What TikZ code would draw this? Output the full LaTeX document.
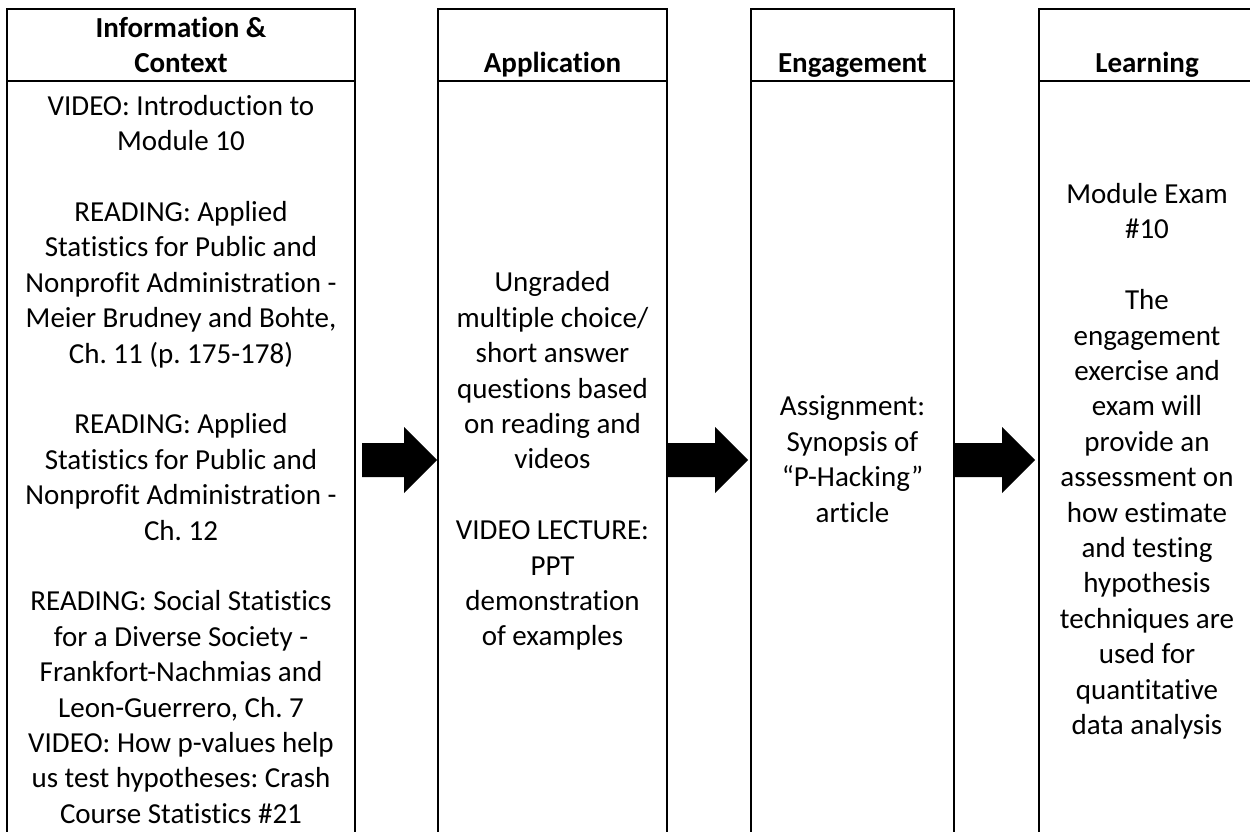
\documentclass[tikz,border=0pt]{standalone}
\usepackage{fontspec}
\setmainfont{Carlito}[Ligatures={TeX,NoCommon}]
\frenchspacing
% one text line: 27.6pt above the baseline, 7.8pt below (35.4pt pitch)
\newcommand\lnstrut{\rule[-7.8pt]{0pt}{35.4pt}}
\tikzset{
  colbox/.style={draw=black, line width=2.7pt, outer sep=0pt, inner sep=0pt},
  headtxt/.style={font=\fontsize{29}{35.4}\selectfont\bfseries, align=center, inner sep=0pt},
  bodytxt/.style={font=\fontsize{29}{35.4}\selectfont, align=center, inner sep=0pt},
  pics/blockarrow/.style={code={
    \fill[black] (0,0) -- (-33,-33) -- (-33,-17) -- (-#1,-17) -- (-#1,17)
      -- (-33,17) -- (-33,33) -- cycle;
  }}
}
\begin{document}
\begin{tikzpicture}[x=1pt,y=-1pt]
\useasboundingbox (0,0) rectangle (1250,832);
\clip (0,0) rectangle (1250,832);

% the four columns (outline boxes)
\node[colbox, minimum width=348pt, minimum height=827pt] (c1) at (181,422.5) {};
\node[colbox, minimum width=229pt, minimum height=827pt] (c2) at (552.5,422.5) {};
\node[colbox, minimum width=203pt, minimum height=827pt] (c3) at (852.5,422.5) {};
\node[colbox, minimum width=216pt, minimum height=827pt] (c4) at (1147,422.5) {};

% header / body separators
\foreach \c in {c1,c2,c3,c4}
  \draw[line width=2.7pt] (\c.west |- 0,81) -- (\c.east |- 0,81);

% headers
\node[headtxt, anchor=north] (h1) at (c1.north |- 0,9.4) {\lnstrut Information \&\\Context\lnstrut};
\node[headtxt, anchor=base] (h2) at (c2.north |- 0,72.4) {Application};
\node[headtxt, anchor=base] (h3) at (c3.north |- 0,72.4) {Engagement};
\node[headtxt, anchor=base] (h4) at (c4.north |- 0,72.4) {Learning};

% column contents
\node[bodytxt, anchor=north] (b1) at (c1.north |- 0,87.4) {\lnstrut VIDEO: Introduction to\\
Module 10\\[35.4pt]
READING: Applied\\
Statistics for Public and\\
Nonprofit Administration -\\
Meier Brudney and Bohte,\\
Ch. 11 (p. 175-178)\\[35.4pt]
READING: Applied\\
Statistics for Public and\\
Nonprofit Administration -\\
Ch. 12\\[35.4pt]
READING: Social Statistics\\
for a Diverse Society -\\
Frankfort-Nachmias and\\
Leon-Guerrero, Ch. 7\\
VIDEO: How p-values help\\
us test hypotheses: Crash\\
Course Statistics \#21\lnstrut};

\node[bodytxt] (b2) at (c2.north |- 0,459) {\lnstrut Ungraded\\
multiple choice/\\
short answer\\
questions based\\
on reading and\\
videos\\[35.4pt]
VIDEO LECTURE:\\
PPT\\
demonstration\\
of examples\lnstrut};

\node[bodytxt] (b3) at (c3.north |- 0,459) {\lnstrut Assignment:\\
Synopsis of\\
“P-Hacking”\\
article\lnstrut};

\node[bodytxt] (b4) at (c4.north |- 0,459) {\lnstrut Module Exam\\
\#10\\[35.4pt]
The\\
engagement\\
exercise and\\
exam will\\
provide an\\
assessment on\\
how estimate\\
and testing\\
hypothesis\\
techniques are\\
used for\\
quantitative\\
data analysis\lnstrut};

% block arrows between the columns
\pic at ([xshift=-1pt]c2.west |- 0,460) {blockarrow=75};
\pic at ([xshift=-3pt]c3.west |- 0,460) {blockarrow=80};
\pic at ([xshift=-4pt]c4.west |- 0,460) {blockarrow=80};
\end{tikzpicture}
\end{document}
